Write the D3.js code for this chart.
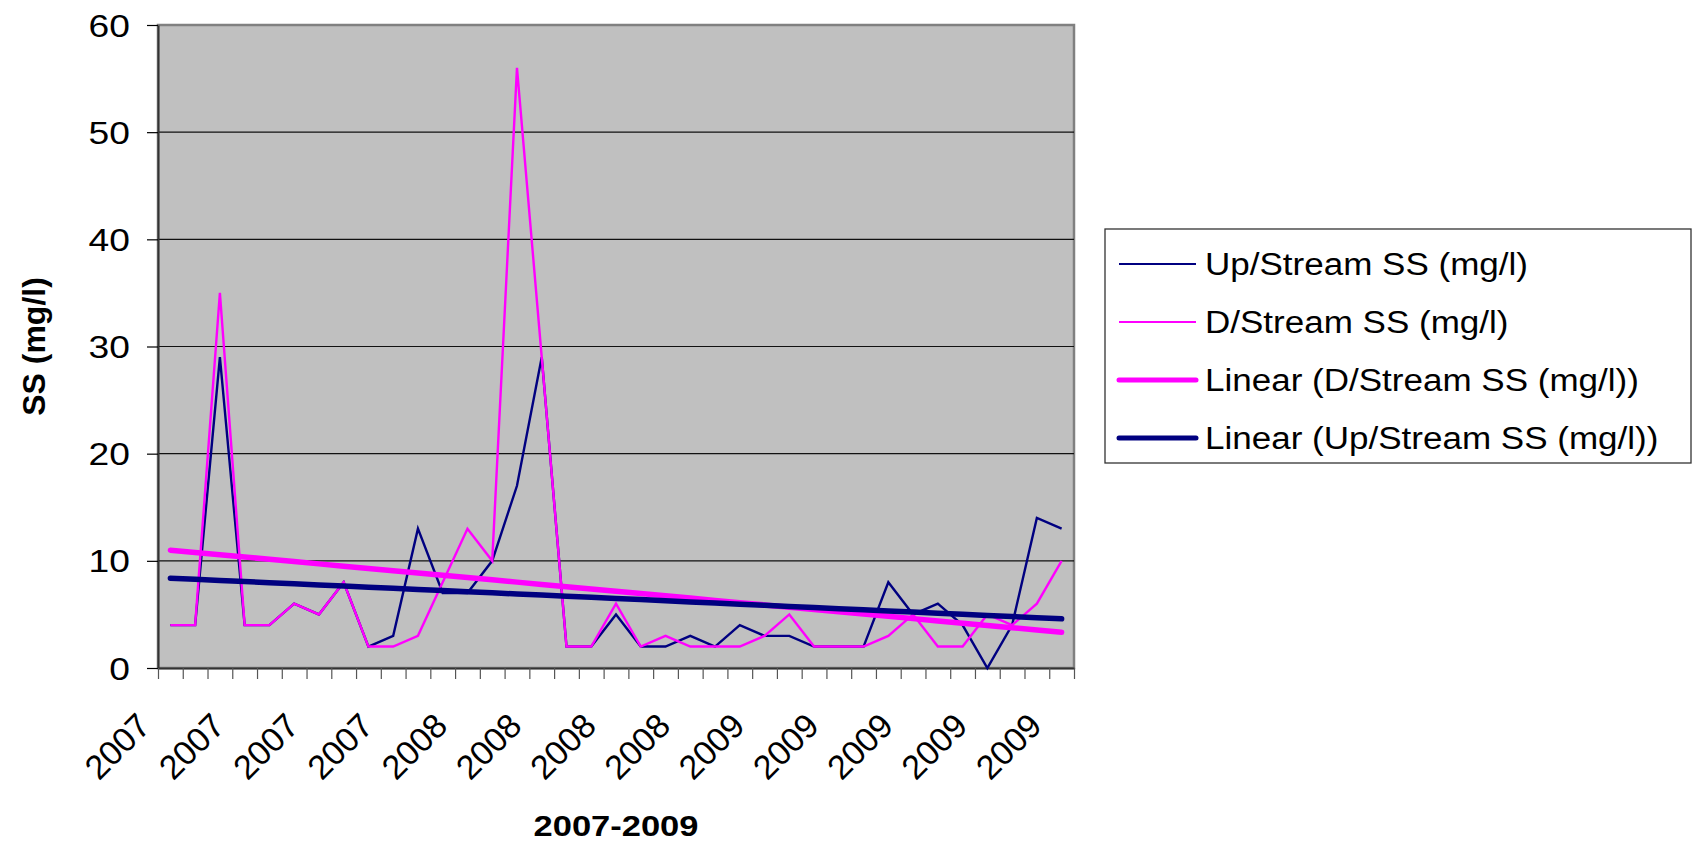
<!DOCTYPE html>
<html>
<head>
<meta charset="utf-8">
<script src="https://cdn.jsdelivr.net/npm/d3@7/dist/d3.min.js"></script>
<style>
	body { margin: 0; background: #ffffff; }
	text { font-family: "Liberation Sans", Arial, sans-serif; fill: #000000; }
</style>
</head>
<body>
<div id="chart-div"></div>
<script>
// Year of each sampling date, one entry per category on the x axis
const sampleYears = [
	2007, 2007, 2007, 2007, 2007, 2007, 2007, 2007, 2007, 2007, 2007, 2007,
	2008, 2008, 2008, 2008, 2008, 2008, 2008, 2008, 2008, 2008, 2008, 2008,
	2009, 2009, 2009, 2009, 2009, 2009, 2009, 2009, 2009, 2009, 2009, 2009, 2009,
];

// Suspended solids readings (mg/l)
const upStreamSS = [
	4, 4, 29, 4, 4, 6, 5, 8, 2, 3, 13, 7, 7, 10, 17, 29, 2, 2, 5,
	2, 2, 3, 2, 4, 3, 3, 2, 2, 2, 8, 5, 6, 4, 0, 4, 14, 13,
];
const downStreamSS = [
	4, 4, 35, 4, 4, 6, 5, 8, 2, 2, 3, 8, 13, 10, 56, 29, 2, 2, 6,
	2, 3, 2, 2, 2, 3, 5, 2, 2, 2, 3, 5, 2, 2, 5, 4, 6, 10,
];

const yTicks = [0, 10, 20, 30, 40, 50, 60];
const labelEvery = 3; // only every third category gets a year label

const legendNames = [
	"Up/Stream SS (mg/l)",
	"D/Stream SS (mg/l)",
	"Linear (D/Stream SS (mg/l))",
	"Linear (Up/Stream SS (mg/l))",
];

class StreamChart {
	constructor() {
		this.width = 1702;
		this.height = 845;
		this.plot = { left: 158, right: 1074, top: 25, bottom: 668 };
		// horizontal text in the source is rendered a bit wider than Arial
		this.stretch = 1.13;
		this.colors = { up: "#000080", down: "#ff00ff" };

		this.svg = d3
			.select("#chart-div")
			.append("svg")
			.attr("width", this.width)
			.attr("height", this.height);

		this.x = d3
			.scaleBand()
			.domain(d3.range(sampleYears.length))
			.range([this.plot.left, this.plot.right]);
		this.y = d3
			.scaleLinear()
			.domain([0, 60])
			.range([this.plot.bottom, this.plot.top]);

		this.drawPlotArea();
		this.drawAxes();
		this.drawSeries();
		this.drawLegend();
	}

	cx(i) {
		return this.x(i) + this.x.bandwidth() / 2;
	}

	drawPlotArea() {
		const p = this.plot;
		this.svg
			.append("rect")
			.attr("x", p.left)
			.attr("y", p.top)
			.attr("width", p.right - p.left)
			.attr("height", p.bottom - p.top)
			.attr("fill", "#c0c0c0")
			.attr("stroke", "#808080")
			.attr("stroke-width", 2.5);

		// horizontal gridlines
		this.svg
			.append("g")
			.selectAll("line")
			.data(yTicks.filter((d) => d > 0 && d < 60))
			.join("line")
			.attr("x1", p.left)
			.attr("x2", p.right)
			.attr("y1", (d) => this.y(d))
			.attr("y2", (d) => this.y(d))
			.attr("stroke", "#111111")
			.attr("stroke-width", 1.2);
	}

	drawAxes() {
		const p = this.plot;

		// Y axis
		const yAxis = this.svg
			.append("g")
			.attr("transform", `translate(${p.left},0)`)
			.call(d3.axisLeft(this.y).tickValues(yTicks).tickSize(11).tickSizeOuter(0));
		yAxis.attr("font-family", null).attr("font-size", null);
		yAxis.select(".domain").attr("stroke", "#333333").attr("stroke-width", 2);
		yAxis.selectAll(".tick line").attr("stroke", "#000000").attr("stroke-width", 1.2);
		yAxis
			.selectAll(".tick text")
			.attr("x", 0)
			.attr("dy", "0.36em")
			.attr("transform", `translate(-28,0) scale(1.2,1)`)
			.style("font-size", "31px");

		// X axis: tick marks sit on category boundaries, like Excel
		const boundary = d3
			.scaleLinear()
			.domain([0, sampleYears.length])
			.range([p.left, p.right]);
		const xAxis = this.svg
			.append("g")
			.attr("transform", `translate(0,${p.bottom})`)
			.call(
				d3
					.axisBottom(boundary)
					.tickValues(d3.range(sampleYears.length + 1))
					.tickFormat("")
					.tickSize(11)
					.tickSizeOuter(0)
			);
		xAxis.select(".domain").attr("stroke", "#333333").attr("stroke-width", 2);
		xAxis.selectAll(".tick line").attr("stroke", "#555555").attr("stroke-width", 1.2);

		// rotated year labels
		this.svg
			.append("g")
			.selectAll("text")
			.data(sampleYears.map((d, i) => [d, i]).filter(([d, i]) => i % labelEvery === 0))
			.join("text")
			.text(([d]) => d)
			.attr("text-anchor", "end")
			.attr(
				"transform",
				([d, i]) => `translate(${this.cx(i) - 18},${p.bottom + 60}) rotate(-45)`
			)
			.style("font-size", "34px");

		// axis titles
		this.svg
			.append("text")
			.text("2007-2009")
			.attr("text-anchor", "middle")
			.attr("dy", "0.36em")
			.attr("transform", `translate(${(p.left + p.right) / 2},825) scale(1.15,1)`)
			.style("font-size", "30px")
			.style("font-weight", "bold");

		this.svg
			.append("text")
			.text("SS (mg/l)")
			.attr("text-anchor", "middle")
			.attr("dy", "0.36em")
			.attr("transform", `translate(33,${(p.top + p.bottom) / 2}) rotate(-90)`)
			.style("font-size", "32px")
			.style("font-weight", "bold");
	}

	// least squares fit over category index, as Excel's linear trendline does
	trend(values) {
		const xs = values.map((d, i) => i + 1);
		const mx = d3.mean(xs);
		const my = d3.mean(values);
		const slope =
			d3.sum(xs, (x, i) => (x - mx) * (values[i] - my)) /
			d3.sum(xs, (x) => (x - mx) ** 2);
		const intercept = my - slope * mx;
		return values.map((d, i) => intercept + slope * (i + 1));
	}

	drawSeries() {
		const line = d3
			.line()
			.x((d, i) => this.cx(i))
			.y((d) => this.y(d));

		const layers = [
			{ values: upStreamSS, color: this.colors.up, width: 2.4 },
			{ values: downStreamSS, color: this.colors.down, width: 2.4 },
			{ values: this.trend(downStreamSS), color: this.colors.down, width: 5.5 },
			{ values: this.trend(upStreamSS), color: this.colors.up, width: 5.5 },
		];

		this.svg
			.append("g")
			.selectAll("path")
			.data(layers)
			.join("path")
			.attr("d", (d) => line(d.values))
			.attr("fill", "none")
			.attr("stroke", (d) => d.color)
			.attr("stroke-width", (d) => d.width)
			.attr("stroke-linejoin", "miter")
			.attr("stroke-linecap", (d) => (d.width > 3 ? "round" : "butt"));
	}

	drawLegend() {
		const s = this.stretch;
		const box = { x: 1105, y: 229, w: 586, h: 234 };
		const rowY = d3.scalePoint().domain(legendNames).range([264, 438]);
		const swatch = [
			{ color: this.colors.up, width: 2.2 },
			{ color: this.colors.down, width: 2.2 },
			{ color: this.colors.down, width: 5 },
			{ color: this.colors.up, width: 5 },
		];

		const legend = this.svg.append("g");
		legend
			.append("rect")
			.attr("x", box.x)
			.attr("y", box.y)
			.attr("width", box.w)
			.attr("height", box.h)
			.attr("fill", "#ffffff")
			.attr("stroke", "#333333")
			.attr("stroke-width", 1.3);

		const rows = legend
			.selectAll(".legend-row")
			.data(legendNames)
			.join("g")
			.classed("legend-row", true)
			.attr("transform", (d) => `translate(0,${rowY(d)})`);

		rows.append("line")
			.attr("x1", 1119)
			.attr("x2", 1196)
			.attr("stroke", (d, i) => swatch[i].color)
			.attr("stroke-width", (d, i) => swatch[i].width)
			.attr("stroke-linecap", (d, i) => (swatch[i].width > 3 ? "round" : "butt"));

		rows.append("text")
			.text((d) => d)
			.attr("dy", "0.36em")
			.attr("transform", `translate(1205,0) scale(${s},1)`)
			.style("font-size", "31px");
	}
}

new StreamChart();
</script>
</body>
</html>
